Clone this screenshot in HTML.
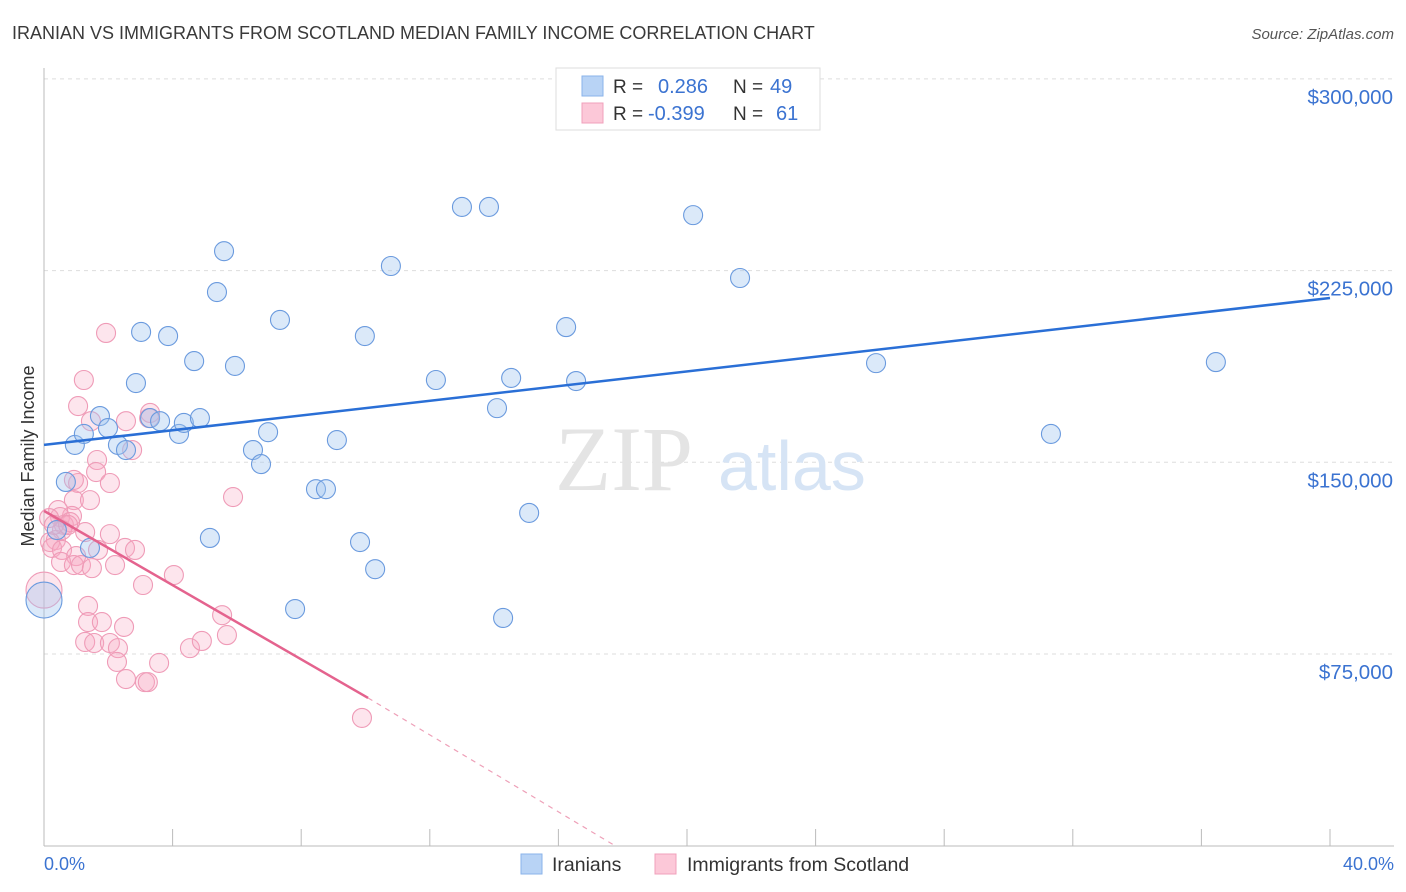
<!DOCTYPE html>
<html><head><meta charset="utf-8"><style>
body{margin:0;background:#fff;font-family:"Liberation Sans",sans-serif;}
svg{display:block}
</style></head><body>
<svg id="chart" width="1406" height="892" viewBox="0 0 1406 892" xmlns="http://www.w3.org/2000/svg">
<text x="12" y="39" font-size="18" fill="#3a3a3a">IRANIAN VS IMMIGRANTS FROM SCOTLAND MEDIAN FAMILY INCOME CORRELATION CHART</text>
<text x="1394" y="39" font-size="15" fill="#555" text-anchor="end" font-style="italic">Source: ZipAtlas.com</text>
<g id="grid"></g>
<text x="555" y="490" font-size="92" fill="#e4e4e4" font-family="Liberation Serif, serif">ZIP</text>
<text x="718" y="490" font-size="70" fill="#d6e4f5">atlas</text>
<line x1="44" y1="68" x2="44" y2="846" stroke="#bbb"/>
<line x1="44" y1="846" x2="1394" y2="846" stroke="#bbb"/>
<g id="xticks"></g>
<text transform="translate(34,456) rotate(-90)" font-size="18" fill="#333" text-anchor="middle">Median Family Income</text>
<text x="44" y="870" font-size="18" fill="#3b73d1">0.0%</text>
<text x="1394" y="870" font-size="18" fill="#3b73d1" text-anchor="end">40.0%</text>
<g id="pts"></g>
<g id="trends"></g>
<g>
<rect x="556" y="68" width="264" height="62" fill="#fff" stroke="#ddd"/>
<rect x="582" y="76" width="21" height="20" fill="#b8d3f5" stroke="#8ab3ea"/>
<rect x="582" y="103" width="21" height="20" fill="#fcc8d8" stroke="#f0a0bb"/>
<text x="613" y="93" font-size="19" fill="#333">R =</text>
<text x="658" y="93" font-size="20" fill="#3b73d1">0.286</text>
<text x="733" y="93" font-size="19" fill="#333">N =</text>
<text x="770" y="93" font-size="20" fill="#3b73d1">49</text>
<text x="613" y="120" font-size="19" fill="#333">R =</text>
<text x="648" y="120" font-size="20" fill="#3b73d1">-0.399</text>
<text x="733" y="120" font-size="19" fill="#333">N =</text>
<text x="776" y="120" font-size="20" fill="#3b73d1">61</text>
</g>
<g>
<rect x="521" y="854" width="21" height="20" fill="#b8d3f5" stroke="#8ab3ea"/>
<text x="552" y="871" font-size="19.5" fill="#333">Iranians</text>
<rect x="655" y="854" width="21" height="20" fill="#fcc8d8" stroke="#f0a0bb"/>
<text x="687" y="871" font-size="19.5" fill="#333">Immigrants from Scotland</text>
</g>
</svg>
<script>
const yTicks=[75000,150000,225000,300000];
const yTickLabels=["$75,000","$150,000","$225,000","$300,000"];
const blueX=[1.74,0.96,1.24,1.99,2.30,2.55,0.68,0.40,1.43,0.0,2.86,3.02,3.30,3.61,3.86,4.20,4.35,4.67,4.85,5.16,5.38,5.60,5.94,6.50,6.75,6.97,7.34,7.81,8.46,8.77,9.11,9.83,9.98,10.30,10.79,12.19,13.00,13.84,14.09,14.28,14.53,15.09,16.24,16.55,20.19,21.65,25.88,31.32,36.45];
const blueY=[168.1,156.8,161.1,163.4,156.8,154.8,142.3,123.5,116.5,96.1,181.0,201.0,167.3,166.1,199.4,161.1,165.4,189.6,167.3,120.4,216.6,232.6,187.7,154.8,149.3,161.8,205.7,92.6,139.5,139.5,158.7,118.8,199.4,108.2,226.8,182.2,249.9,249.9,171.2,89.1,183.0,130.2,202.9,181.8,246.7,222.1,188.8,161.1,189.2];
const blueBig=[9];
const pinkX=[1.93,1.24,1.06,1.46,2.55,3.30,3.27,2.74,1.65,1.62,2.05,1.06,0.93,0.93,0.87,1.43,0.44,0.50,0.62,0.81,0.56,1.28,2.05,0.37,0.19,0.25,0.56,1.00,1.68,2.52,2.83,2.21,0.53,0.93,1.15,1.49,4.04,3.08,0.0,1.37,1.37,1.80,2.49,1.28,1.56,2.05,2.30,2.27,2.55,3.14,3.23,3.58,4.54,4.91,5.54,5.69,5.88,9.89,0.16,0.31,0.75];
const pinkY=[200.6,182.2,172.0,166.1,166.1,169.3,167.3,154.8,150.9,146.2,141.9,141.9,143.1,135.2,129.0,135.2,131.3,128.6,125.5,126.6,123.5,122.7,121.9,119.6,118.8,116.5,115.7,113.3,115.7,116.5,115.7,109.8,111.0,109.8,109.8,108.6,105.9,102.0,100.0,93.8,87.5,87.5,85.6,79.7,79.3,79.3,77.3,71.9,65.2,64.0,64.0,71.5,77.3,80.1,90.2,82.4,136.4,50.0,128.2,125.5,125.5];
const pinkBig=[38];
const blueTrend=[[0,156.8],[40,214.3]];
const pinkTrend=[[0,131.0],[10.08,57.8]];
const pinkTrendDash=[[10.08,57.8],[17.76,0]];
const NS="http://www.w3.org/2000/svg";
const X=v=>44+v*1286/40;
const Y=v=>845.7-v*191.7/75;
const grid=document.getElementById('grid');
yTicks.forEach((t,i)=>{
 const l=document.createElementNS(NS,'line');
 
 
 const y=Y(t/1000);
 l.setAttribute('x1',44);l.setAttribute('x2',1394);l.setAttribute('y1',y);l.setAttribute('y2',y);
 l.setAttribute('stroke','#ddd');l.setAttribute('stroke-dasharray','4,4');
 grid.appendChild(l);
 const tx=document.createElementNS(NS,'text');
 
 
 tx.setAttribute('x',1393);tx.setAttribute('y',y+25);tx.setAttribute('text-anchor','end');
 tx.setAttribute('font-size','20.5');tx.setAttribute('fill','#3b73d1');
 tx.textContent=yTickLabels[i];grid.appendChild(tx);
});
const xt=document.getElementById('xticks');
for(let i=1;i<=10;i++){
 const l=document.createElementNS(NS,'line');
 
 
 const x=X(i*4);
 l.setAttribute('x1',x);l.setAttribute('x2',x);l.setAttribute('y1',829);l.setAttribute('y2',846);
 l.setAttribute('stroke','#bbb');xt.appendChild(l);
}
const pts=document.getElementById('pts');
function dots(xs,ys,big,fill,stroke,name){
 xs.forEach((v,i)=>{
  const c=document.createElementNS(NS,'circle');
  
  
  c.setAttribute('cx',X(v));c.setAttribute('cy',Y(ys[i]));
  c.setAttribute('r',big.includes(i)?18:9.5);
  c.setAttribute('fill',fill);c.setAttribute('stroke',stroke);c.setAttribute('stroke-width','1.1');
  pts.appendChild(c);
 });
}
dots(pinkX,pinkY,pinkBig,'rgba(248,170,196,0.3)','#ef9bb7','point-scotland');
dots(blueX,blueY,blueBig,'rgba(160,196,240,0.38)','#6a9ade','point-iranians');
const tr=document.getElementById('trends');
function line(p,stroke,w,dash,name){
 const l=document.createElementNS(NS,'line');
 
 
 l.setAttribute('x1',X(p[0][0]));l.setAttribute('y1',Y(p[0][1]));
 l.setAttribute('x2',X(p[1][0]));l.setAttribute('y2',Y(p[1][1]));
 l.setAttribute('stroke',stroke);l.setAttribute('stroke-width',w);
 if(dash)l.setAttribute('stroke-dasharray',dash);
 tr.appendChild(l);
}
line(blueTrend,'#2a6fd6',2.5,null,'trend-iranians');
line(pinkTrend,'#e4638e',2.5,null,'trend-scotland');
line(pinkTrendDash,'#eea0b8',1.2,'5,5','trend-scotland-extrapolated');
</script>
</body></html>
